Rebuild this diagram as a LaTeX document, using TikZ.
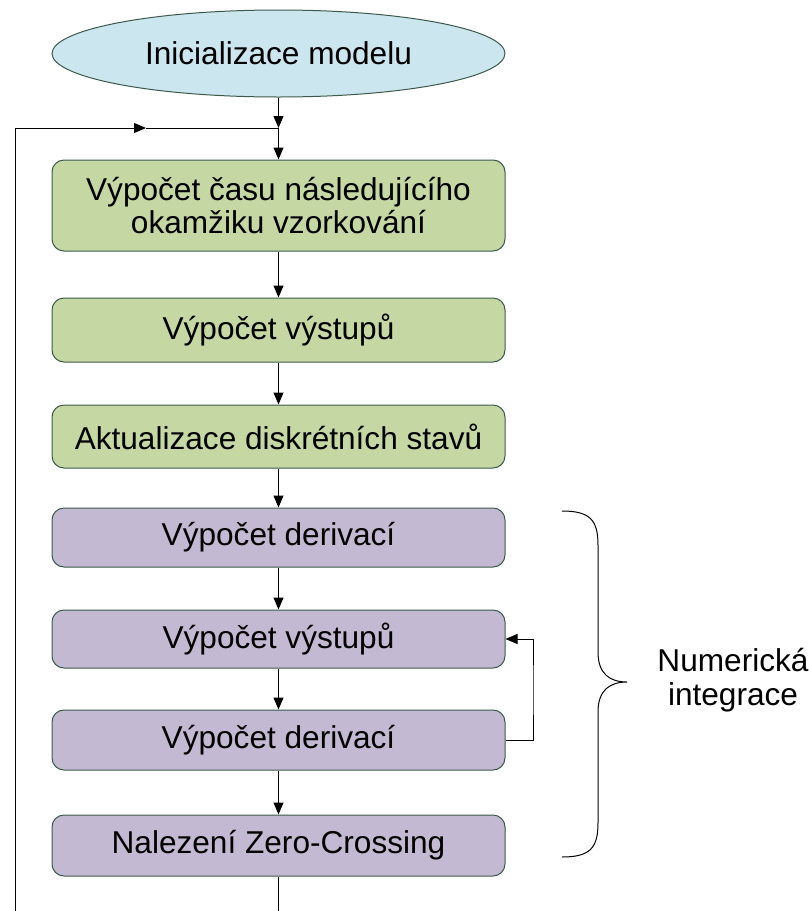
\documentclass[tikz,border=0pt]{standalone}
\usepackage{fontspec}
\setmainfont{Liberation Sans}
\usetikzlibrary{arrows.meta, shapes.geometric}

\definecolor{startfill}{RGB}{203,230,238}
\definecolor{greenfill}{RGB}{197,216,164}
\definecolor{violetfill}{RGB}{196,185,210}
\definecolor{boxline}{RGB}{60,90,75}

\tikzset{
  box/.style={draw=boxline, line width=0.5pt, rounded corners=6pt,
    minimum width=226.5pt, minimum height=30pt, inner sep=0pt,
    align=center, font=\fontsize{15.8}{16.5}\selectfont},
  greenbox/.style={box, fill=greenfill},
  violetbox/.style={box, fill=violetfill},
  startnode/.style={ellipse, draw=boxline, line width=0.5pt, fill=startfill,
    minimum width=226.5pt, minimum height=43.5pt, inner sep=0pt,
    font=\fontsize{15.8}{16.5}\selectfont},
  link/.style={line width=0.5pt, -{Triangle[length=6pt,width=5pt]}},
  wire/.style={line width=0.5pt}
}

\begin{document}
\begin{tikzpicture}[x=0.5pt, y=-0.5pt]
	\useasboundingbox (0,0) rectangle (809,911);
	
	\node[startnode] (init) at (278.5,53.5) {Inicializace modelu};
	
	\node[greenbox, minimum height=45.5pt] (tnext) at (278.5,205.5) {Výpočet času následujícího\\okamžiku vzorkování};
	\node[greenbox, minimum height=32pt] (out1) at (278.5,330) {Výpočet výstupů};
	\node[greenbox, minimum height=31.5pt] (upd) at (278.5,436.5) {Aktualizace diskrétních stavů};
	
	\node[violetbox, minimum height=29.5pt] (der1) at (278.5,537.5) {Výpočet derivací};
	\node[violetbox, minimum height=29pt] (out2) at (278.5,639) {Výpočet výstupů};
	\node[violetbox, minimum height=30pt] (der2) at (278.5,740) {Výpočet derivací};
	\node[violetbox, minimum height=30.5pt] (zc) at (278.5,845.5) {Nalezení Zero-Crossing};
	
	\coordinate (join) at (278.5,128);
	\coordinate (loopmid) at (146,128);
	\coordinate (loopbl) at (15,911);
	\coordinate (loopend) at (278.5,911);
	\coordinate (innerloop) at (533,690);
	
	\draw[link] (init) -- (join);
	\draw[link] (join) -- (tnext);
	\draw[link] (tnext) -- (out1);
	\draw[link] (out1) -- (upd);
	\draw[link] (upd) -- (der1);
	\draw[link] (der1) -- (out2);
	\draw[link] (out2) -- (der2);
	\draw[link] (der2) -- (zc);
	
	\draw[link] (der2.east) -| (innerloop) |- (out2.east);
	
	\draw[wire] (zc) -- (loopend);
	\draw[link] (loopbl) |- (loopmid);
	\draw[wire] (loopmid) -- (join);
	
	\draw[wire] (562,511) .. controls (590,511) and (598,520) .. (598,545) -- (598,652)
	  .. controls (598,674) and (610,682) .. (627,682)
	  .. controls (610,682) and (598,690) .. (598,712) -- (598,823)
	  .. controls (598,848) and (590,857) .. (562,857);
	
	\node[align=center, font=\fontsize{15.8}{17}\selectfont] (numint) at (733,680) {Numerická\\integrace};
\end{tikzpicture}
\end{document}
